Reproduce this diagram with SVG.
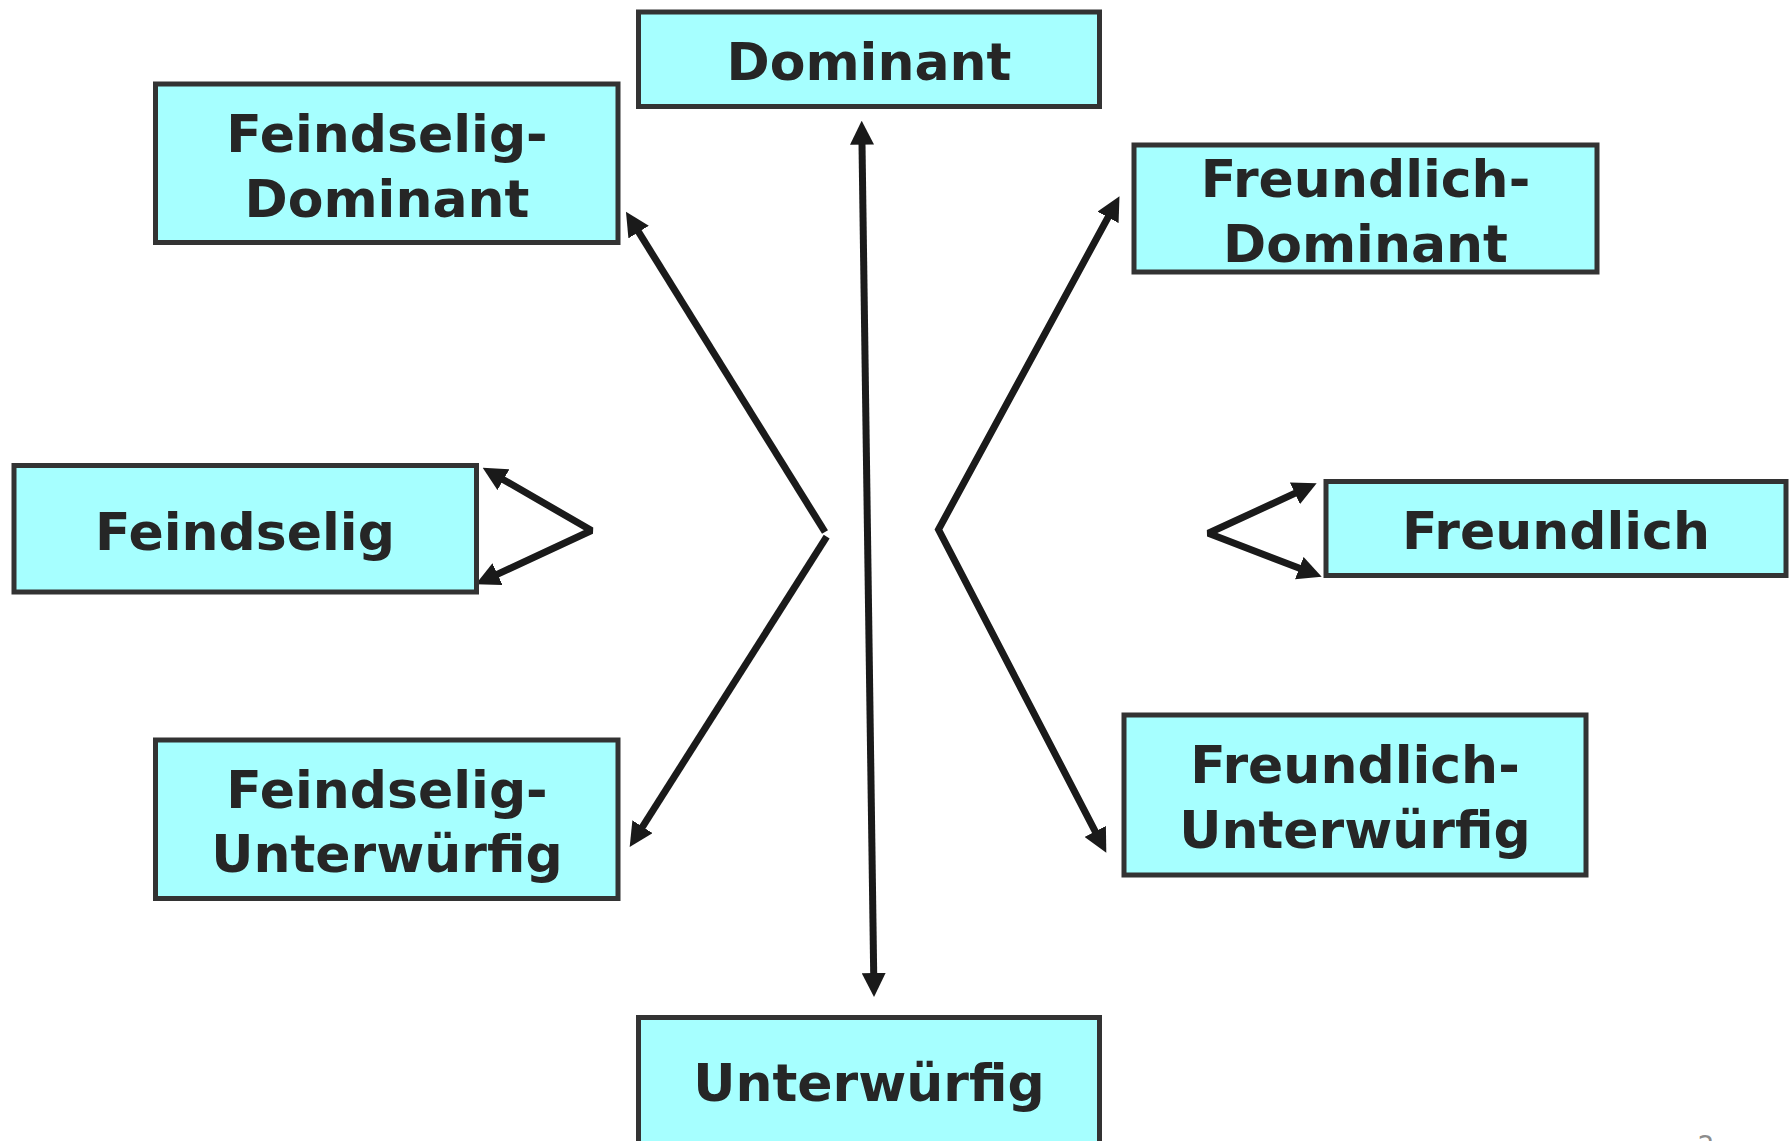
<svg xmlns="http://www.w3.org/2000/svg" width="1789" height="1141" viewBox="0 0 1789 1141">
<style>
.box{fill:#A6FFFF;stroke:#333333;stroke-width:5}
.lbl{font-family:"DejaVu Sans","Verdana",sans-serif;font-weight:bold;font-size:52px;fill:#262626;text-anchor:middle}
.con{fill:none;stroke:#1a1a1a;stroke-width:7;stroke-linejoin:miter;stroke-miterlimit:10}
.bev{stroke-linejoin:bevel}
</style>
<defs>
<marker id="ah" viewBox="0 0 24 24" markerWidth="24" markerHeight="24" refX="1" refY="12" markerUnits="userSpaceOnUse" orient="auto-start-reverse">
<path d="M0,0 L24,12 L0,24 z" fill="#1a1a1a"/>
</marker>
</defs>
<rect width="1789" height="1141" fill="#ffffff"/>
<g id="connectors">
<line class="con" x1="862" y1="143.7" x2="873.7" y2="974" marker-start="url(#ah)" marker-end="url(#ah)"/>
<line class="con" x1="825" y1="532" x2="638.1" y2="231.2" marker-end="url(#ah)"/>
<line class="con" x1="826.7" y1="536.7" x2="642" y2="827.6" marker-end="url(#ah)"/>
<polyline class="con bev" points="502.6,479.2 591.5,530.5 496.6,574.6" marker-start="url(#ah)" marker-end="url(#ah)"/>
<polyline class="con" points="1108.5,216.5 938.5,529.5 1095.7,832.3" marker-start="url(#ah)" marker-end="url(#ah)"/>
<polyline class="con bev" points="1295.8,492.9 1208.3,533.3 1300.2,568.5" marker-start="url(#ah)" marker-end="url(#ah)"/>
</g>
<g id="dominant">
<rect class="box" x="638.5" y="12" width="461" height="94.5"/>
<text class="lbl" x="869" y="80.4">Dominant</text>
</g>
<g id="feindselig-dominant">
<rect class="box" x="155.5" y="84" width="462.5" height="158.5"/>
<text class="lbl" x="387" y="152.3">Feindselig-</text>
<text class="lbl" x="387" y="216.6">Dominant</text>
</g>
<g id="feindselig">
<rect class="box" x="14" y="465.5" width="462.5" height="126.5"/>
<text class="lbl" x="245" y="550">Feindselig</text>
</g>
<g id="feindselig-unterwuerfig">
<rect class="box" x="155.5" y="740" width="462.5" height="158.5"/>
<text class="lbl" x="387" y="808">Feindselig-</text>
<text class="lbl" x="387" y="872">Unterwürfig</text>
</g>
<g id="unterwuerfig">
<rect class="box" x="638.5" y="1017.5" width="461" height="150"/>
<text class="lbl" x="869" y="1101">Unterwürfig</text>
</g>
<g id="freundlich-dominant">
<rect class="box" x="1134" y="145" width="463" height="127"/>
<text class="lbl" x="1365.5" y="197">Freundlich-</text>
<text class="lbl" x="1365.5" y="262">Dominant</text>
</g>
<g id="freundlich">
<rect class="box" x="1326" y="481.5" width="460" height="94"/>
<text class="lbl" x="1556" y="549">Freundlich</text>
</g>
<g id="freundlich-unterwuerfig">
<rect class="box" x="1124" y="715" width="462" height="160"/>
<text class="lbl" x="1355" y="783.4">Freundlich-</text>
<text class="lbl" x="1355" y="847.5">Unterwürfig</text>
</g>
<text x="1706" y="1155" font-family="DejaVu Sans, sans-serif" font-size="26" fill="#8c8c8c" text-anchor="middle">2</text>
</svg>
